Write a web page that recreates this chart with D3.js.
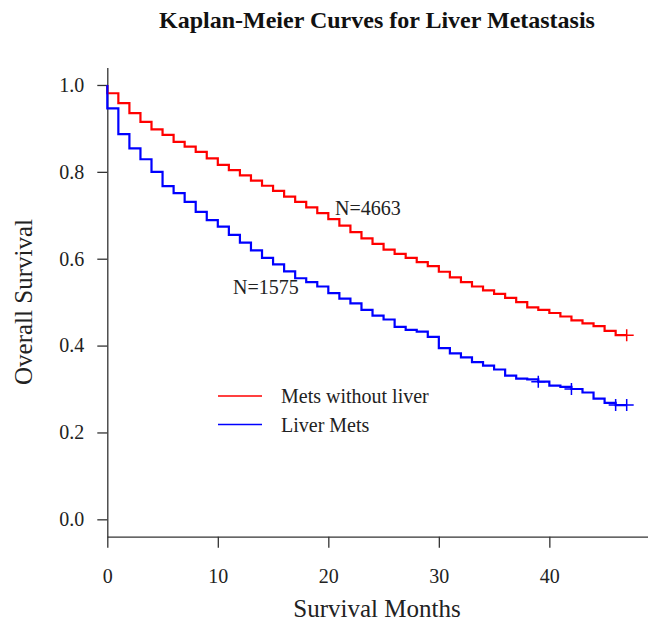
<!DOCTYPE html>
<html>
<head>
<meta charset="utf-8">
<script src="https://cdn.jsdelivr.net/npm/d3@7"></script>
<style>
  body { margin: 0; background: #fff; }
  svg text { font-family: "Liberation Serif", "Times New Roman", serif; fill: #222; }
</style>
</head>
<body>
<svg id="km" width="648" height="630"></svg>
<script>
"use strict";

// month of each step (survival months)
let months = [0, 1, 2, 3, 4, 5, 6, 7, 8, 9, 10, 11, 12, 13, 14, 15, 16, 17, 18, 19, 20, 21, 22, 23,
  24, 25, 26, 27, 28, 29, 30, 31, 32, 33, 34, 35, 36, 37, 38, 39, 40, 41, 42, 43, 44, 45, 46];
let lastMonth = 47;

// survival estimates
let noLiver = [0.981, 0.958, 0.935, 0.915, 0.898, 0.885, 0.869, 0.858, 0.846, 0.831, 0.816, 0.804,
  0.792, 0.780, 0.768, 0.756, 0.743, 0.731, 0.718, 0.705, 0.691, 0.676, 0.661, 0.647, 0.634, 0.621,
  0.611, 0.602, 0.592, 0.583, 0.570, 0.557, 0.546, 0.536, 0.527, 0.519, 0.510, 0.500, 0.488, 0.482,
  0.475, 0.467, 0.458, 0.451, 0.445, 0.434, 0.424];
let liverMets = [0.946, 0.887, 0.854, 0.829, 0.800, 0.767, 0.751, 0.731, 0.708, 0.689, 0.674, 0.655,
  0.637, 0.619, 0.602, 0.587, 0.571, 0.555, 0.546, 0.536, 0.521, 0.508, 0.497, 0.482, 0.469, 0.460,
  0.443, 0.436, 0.432, 0.420, 0.394, 0.382, 0.373, 0.362, 0.354, 0.345, 0.331, 0.324, 0.322, 0.317,
  0.308, 0.305, 0.300, 0.292, 0.278, 0.268, 0.263];

// censored times
let noLiverCensor = [47];
let liverCensor = [39, 42, 46, 47];

let xTicks = [0, 10, 20, 30, 40];
let yTicks = [0, 0.2, 0.4, 0.6, 0.8, 1.0];

let seriesNames = ["Mets without liver", "Liver Mets"];
let seriesColors = ["#ff0000", "#0000ff"];
let nLabels = ["N=4663", "N=1575"];

let svg = d3.select("#km");

let x = d3.scaleLinear().domain([0, 49]).range([107.3, 648.8]);
let y = d3.scaleLinear().domain([-0.04, 1.04]).range([536.7, 67.6]);

// Title
svg.append("text")
  .attr("x", 377)
  .attr("y", 28)
  .attr("text-anchor", "middle")
  .style("font-size", "24px")
  .style("font-weight", "bold")
  .style("fill", "#111")
  .text("Kaplan-Meier Curves for Liver Metastasis");

// Axes
let xAxis = svg.append("g")
  .attr("transform", `translate(0,${y(-0.04)})`)
  .call(d3.axisBottom(x).tickValues(xTicks).tickSize(11).tickSizeOuter(0).tickPadding(21));
let yAxis = svg.append("g")
  .attr("transform", `translate(${x(0)},0)`)
  .call(d3.axisLeft(y).tickValues(yTicks).tickSize(10).tickSizeOuter(0).tickPadding(13)
    .tickFormat(d3.format(".1f")));

[xAxis, yAxis].forEach(a => {
  a.selectAll("path, line").attr("stroke", "#333").attr("stroke-width", 1.3);
  a.selectAll("text")
    .style("font-family", "'Liberation Serif', serif")
    .style("font-size", "20px")
    .attr("fill", "#222");
});

// Axis titles
svg.append("text")
  .attr("x", 377)
  .attr("y", 617)
  .attr("text-anchor", "middle")
  .style("font-size", "25px")
  .text("Survival Months");

svg.append("text")
  .attr("transform", "translate(32,302) rotate(-90)")
  .attr("text-anchor", "middle")
  .style("font-size", "25px")
  .text("Overall Survival");

// Step curves
let line = d3.line()
  .x(d => x(d[0]))
  .y(d => y(d[1]))
  .curve(d3.curveStepAfter);

function curvePoints(vals) {
  let pts = [[0, 1.0]];
  months.forEach((m, i) => pts.push([m, vals[i]]));
  pts.push([lastMonth, vals[vals.length - 1]]);
  return pts;
}

// value of a curve at time t
function valueAt(vals, t) {
  let i = d3.bisectRight(months, t) - 1;
  return vals[Math.max(0, Math.min(i, vals.length - 1))];
}

let series = [
  { vals: noLiver, censor: noLiverCensor },
  { vals: liverMets, censor: liverCensor }
];

series.forEach((s, k) => {
  svg.append("path")
    .datum(curvePoints(s.vals))
    .attr("d", line)
    .attr("fill", "none")
    .attr("stroke", seriesColors[k])
    .attr("stroke-width", 2.2);

  // censor marks (+)
  svg.selectAll(null)
    .data(s.censor)
    .enter()
    .append("path")
    .attr("d", d => {
      let cx = x(d), cy = y(valueAt(s.vals, d));
      return `M${cx - 7},${cy}H${cx + 7}M${cx},${cy - 6}V${cy + 6}`;
    })
    .attr("stroke", seriesColors[k])
    .attr("stroke-width", 1.5)
    .attr("fill", "none");
});

// N labels
svg.append("text")
  .attr("x", 335)
  .attr("y", 215)
  .style("font-size", "20px")
  .text(nLabels[0]);
svg.append("text")
  .attr("x", 233)
  .attr("y", 294)
  .style("font-size", "20px")
  .text(nLabels[1]);

// Legend
let legend = svg.append("g").attr("transform", "translate(218,396)");
seriesNames.forEach((name, i) => {
  let row = legend.append("g").attr("transform", `translate(0,${i * 28.5})`);
  row.append("line")
    .attr("x1", 0).attr("x2", 44)
    .attr("y1", 0).attr("y2", 0)
    .attr("stroke", seriesColors[i])
    .attr("stroke-width", 1.3);
  row.append("text")
    .attr("x", 63)
    .attr("y", 7)
    .style("font-size", "20px")
    .text(name);
});
</script>
</body>
</html>
